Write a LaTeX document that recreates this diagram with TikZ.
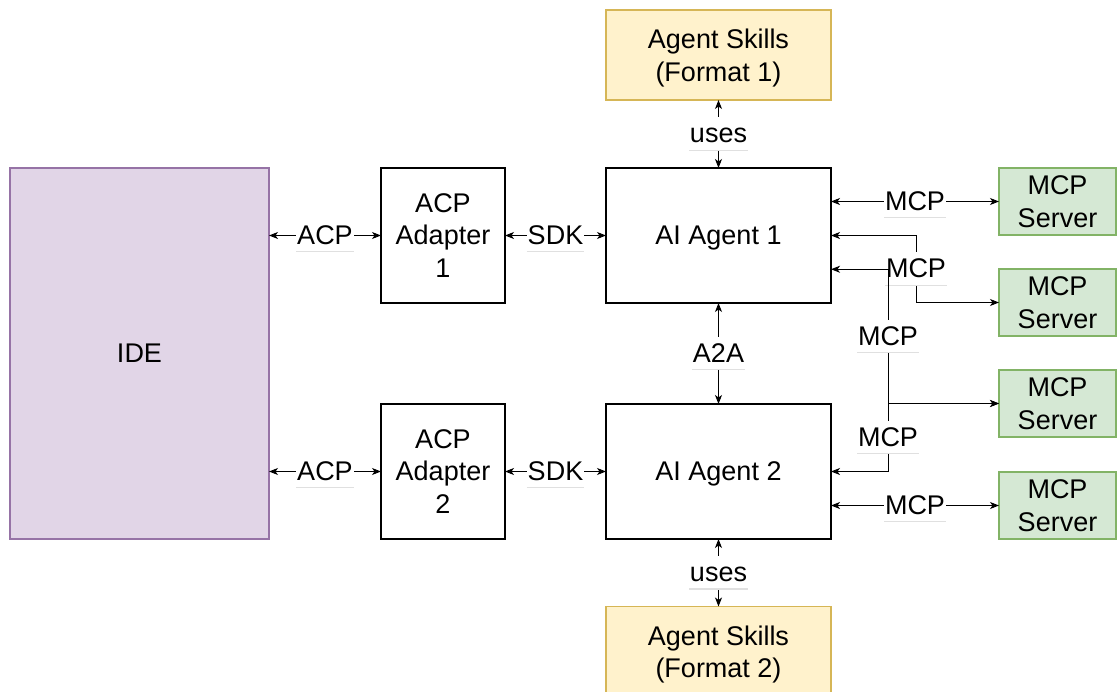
\documentclass[tikz,border=0pt]{standalone}
\usepackage{fontspec}
\setmainfont{Liberation Sans}
\usetikzlibrary{arrows.meta}
\definecolor{skillfill}{HTML}{FFF2CC}
\definecolor{skilldraw}{HTML}{D6B656}
\definecolor{idefill}{HTML}{E1D5E7}
\definecolor{idedraw}{HTML}{9673A6}
\definecolor{srvfill}{HTML}{D5E8D4}
\definecolor{srvdraw}{HTML}{82B366}
\begin{document}
\begin{tikzpicture}[x=1pt,y=-1pt,
  font=\fontsize{27}{32.5}\selectfont,
  box/.style={draw=black, line width=1.2pt, fill=white, align=center, inner sep=0pt, outer sep=0pt, text depth=0pt},
  agentbox/.style={box, minimum width=225pt, minimum height=135pt},
  adapterbox/.style={box, minimum width=124pt, minimum height=135pt},
  skillbox/.style={box, draw=skilldraw, fill=skillfill, minimum width=225pt, minimum height=90pt},
  idebox/.style={box, draw=idedraw, fill=idefill, minimum width=259pt, minimum height=371pt},
  srvbox/.style={box, draw=srvdraw, fill=srvfill, minimum width=117pt, minimum height=67pt},
  conn/.style={draw=black, line width=1pt, {Stealth[length=9pt,width=7pt,inset=2.5pt]}-{Stealth[length=9pt,width=7pt,inset=2.5pt]}},
  lbl/.style={fill=white, inner xsep=1pt, inner ysep=4.5pt, text height=21pt, text depth=3.5pt,
    path picture={\draw[-, black!12, line width=1.2pt]
      ([yshift=0.6pt]path picture bounding box.south west) -- ([yshift=0.6pt]path picture bounding box.south east);}}
]
\useasboundingbox (0,0) rectangle (1117,692);

% boxes
\node[idebox] (ide) at (139.5,353.5) {IDE};
\node[adapterbox] (ad1) at (443,235.5) {ACP\\Adapter\\1};
\node[adapterbox] (ad2) at (443,471.5) {ACP\\Adapter\\2};
\node[agentbox] (a1) at (718.5,235.5) {AI Agent 1};
\node[agentbox] (a2) at (718.5,471.5) {AI Agent 2};
\node[skillbox] (sk1) at (718.5,55) {Agent Skills\\(Format 1)};
\node[skillbox] (sk2) at (718.5,651.5) {Agent Skills\\(Format 2)};
\node[srvbox] (s1) at (1057.5,201.5) {MCP\\Server};
\node[srvbox] (s2) at (1057.5,302.5) {MCP\\Server};
\node[srvbox] (s3) at (1057.5,403.5) {MCP\\Server};
\node[srvbox] (s4) at (1057.5,505.5) {MCP\\Server};

% left connectors
\draw[conn] (ide.east |- ad1.west) -- node[lbl] {ACP} (ad1.west);
\draw[conn] (ide.east |- ad2.west) -- node[lbl] {ACP} (ad2.west);
\draw[conn] (ad1.east) -- node[lbl] {SDK} (a1.west);
\draw[conn] (ad2.east) -- node[lbl] {SDK} (a2.west);

% vertical connectors
\draw[conn] (a1.north) -- node[lbl] {uses} (sk1.south);
\draw[conn] (a1.south) -- node[lbl] {A2A} (a2.north);
\draw[conn] (a2.south) -- node[lbl] {uses} (sk2.north);

% MCP connectors
\draw[conn] (a1.east |- s1.west) -- node[lbl] {MCP} (s1.west);
\draw[conn] (a1.east) -- ++(85,0) |- node[lbl, pos=0.25] {MCP} (s2.west);
\draw[conn] ([yshift=-33.75pt]a1.east) -- ++(57,0) |- node[lbl, pos=0.25] {MCP} (s3.west);
\draw[conn] (a2.east) -- ++(57,0) |- node[lbl, pos=0.25] {MCP} (s3.west);
\draw[conn] (a2.east |- s4.west) -- node[lbl] {MCP} (s4.west);
\end{tikzpicture}
\end{document}
